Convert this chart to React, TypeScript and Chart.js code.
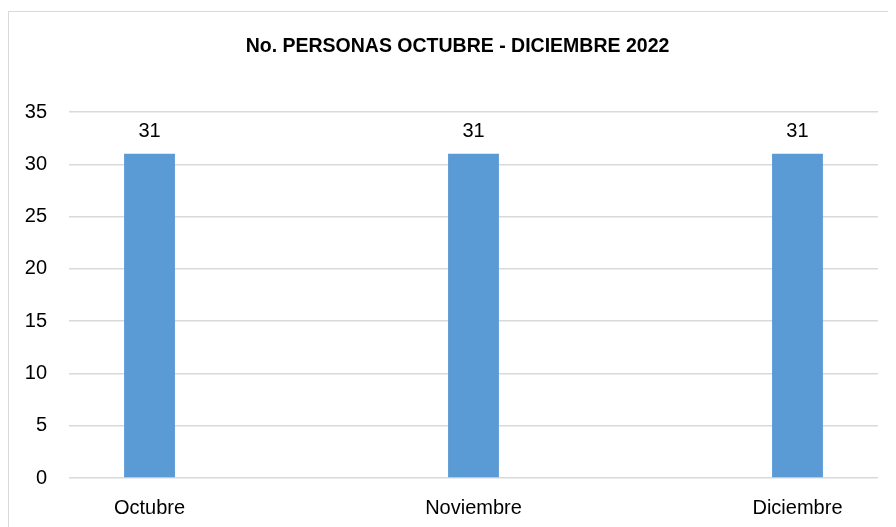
import React, { useEffect, useRef } from "react";
import { Chart, registerables } from "chart.js";

Chart.register(...registerables);

const categories = ["Octubre", "Noviembre", "Diciembre"];
const personas = [31, 31, 31];
const yTickValues = [0, 5, 10, 15, 20, 25, 30, 35];
const chartTitle = "No. PERSONAS OCTUBRE - DICIEMBRE 2022";

const FONT = "'Liberation Sans', Arial, sans-serif";

export default function App() {
  const ref = useRef<HTMLCanvasElement>(null);

  useEffect(() => {
    if (!ref.current) return;
    const valueLabels = {
      id: "valueLabels",
      afterDatasetsDraw(chart: any) {
        const ctx = chart.ctx;
        const meta = chart.getDatasetMeta(0);
        ctx.save();
        ctx.font = `20px ${FONT}`;
        ctx.fillStyle = "#000";
        ctx.textAlign = "center";
        ctx.textBaseline = "alphabetic";
        meta.data.forEach((bar: any, i: number) => {
          ctx.fillText(String(personas[i]), bar.x, bar.y - 17);
        });
        ctx.restore();
      },
    };
    const titlePlugin = {
      id: "centeredTitle",
      afterDraw(chart: any) {
        const ctx = chart.ctx;
        ctx.save();
        ctx.font = `bold 19.5px ${FONT}`;
        ctx.fillStyle = "#000";
        ctx.textAlign = "center";
        ctx.textBaseline = "alphabetic";
        ctx.fillText(chartTitle, 449.5, 43.5);
        ctx.restore();
      },
    };

    const chart = new Chart(ref.current, {
      type: "bar",
      data: {
        datasets: [
          {
            data: personas.map((v, i) => ({ x: i, y: v })),
            backgroundColor: "#5b9bd5",
            categoryPercentage: 1,
            barPercentage: 0.157,
          },
        ],
      },
      options: {
        responsive: false,
        animation: false,
        layout: { padding: { left: 0, right: 18, top: 104, bottom: 0 } },
        plugins: {
          legend: { display: false },
          tooltip: { enabled: false },
          title: { display: false },
        },
        scales: {
          x: {
            type: "linear",
            offset: false,
            min: -0.2485,
            max: 2.2485,
            afterBuildTicks: (s: any) => {
              s.ticks = categories.map((_, i) => ({ value: i }));
            },
            afterFit: (s: any) => {
              s.height = 49;
            },
            ticks: {
              callback: (v: any) => categories[v] ?? "",
              color: "#000",
              font: { family: FONT, size: 20 },
              padding: 18,
              maxRotation: 0,
              autoSkip: false,
            },
            grid: { display: false, drawTicks: false },
            border: { display: false },
          },
          y: {
            min: 0,
            max: 35,
            afterBuildTicks: (s: any) => {
              s.ticks = yTickValues.map((v) => ({ value: v }));
            },
            afterFit: (s: any) => {
              s.width = 61;
            },
            ticks: {
              color: "#000",
              font: { family: FONT, size: 20 },
              padding: 22,
            },
            grid: { color: "#d9d9d9", lineWidth: 1.5, drawTicks: false },
            border: { display: false },
          },
        },
      },
      plugins: [valueLabels, titlePlugin],
    });
    return () => chart.destroy();
  }, []);

  return (
    <div style={{ position: "relative", width: 888, height: 519, overflow: "hidden", background: "#fff" }}>
      <div
        style={{
          position: "absolute",
          left: 0,
          top: 3,
          width: 2000,
          height: 2000,
          borderLeft: "1px solid #d9d9d9",
          borderTop: "1px solid #d9d9d9",
          pointerEvents: "none",
        }}
      />
      <canvas ref={ref} width={888} height={519} style={{ position: "absolute", left: 0, top: 0, display: "block" }} />
    </div>
  );
}
